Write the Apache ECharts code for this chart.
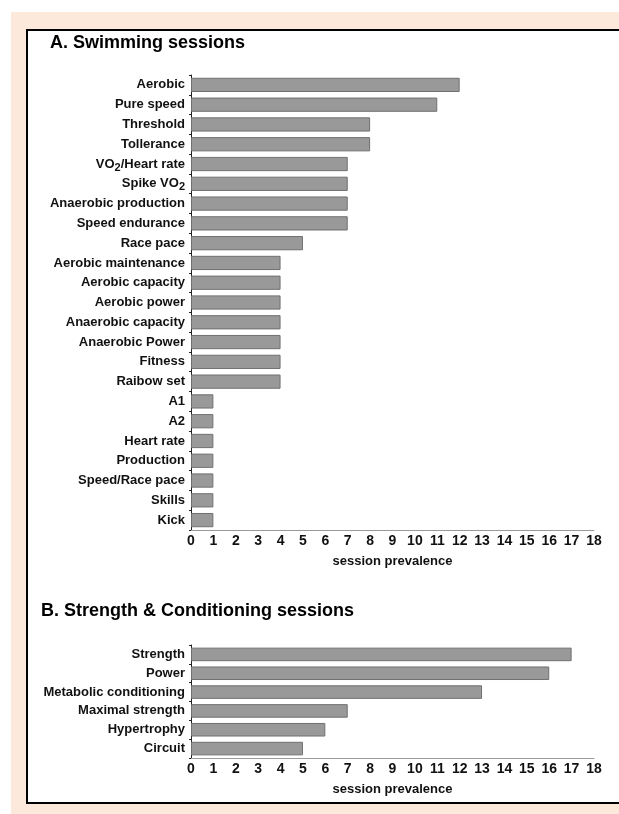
<!DOCTYPE html>
<html>
<head>
<meta charset="utf-8">
<script src="https://cdn.jsdelivr.net/npm/echarts@6/dist/echarts.min.js"></script>
<style>
  html, body { margin: 0; padding: 0; background: #fff; }
  #chart { width: 619px; height: 814px; }
</style>
</head>
<body>
<div id="chart"></div>
<script>
// swimming sessions (top to bottom)
var swimCategories = ['Aerobic', 'Pure speed', 'Threshold', 'Tollerance', 'VO2/Heart rate', 'Spike VO2',
  'Anaerobic production', 'Speed endurance', 'Race pace', 'Aerobic maintenance', 'Aerobic capacity',
  'Aerobic power', 'Anaerobic capacity', 'Anaerobic Power', 'Fitness', 'Raibow set', 'A1', 'A2',
  'Heart rate', 'Production', 'Speed/Race pace', 'Skills', 'Kick'];
var swimValues = [12, 11, 8, 8, 7, 7, 7, 7, 5, 4, 4, 4, 4, 4, 4, 4, 1, 1, 1, 1, 1, 1, 1];

// strength & conditioning sessions
var scCategories = ['Strength', 'Power', 'Metabolic conditioning', 'Maximal strength', 'Hypertrophy', 'Circuit'];
var scValues = [17, 16, 13, 7, 6, 5];

var xTicks = [0, 18, 1]; // min, max, interval
var axisName = 'session prevalence';

var font = 'Liberation Sans, Arial, sans-serif';

function catLabel(v) {
  return v.replace('VO2', 'VO{sub|2}');
}

function valueAxis(idx) {
  return {
    type: 'value', gridIndex: idx,
    min: xTicks[0], max: xTicks[1], interval: xTicks[2],
    name: axisName, nameLocation: 'middle', nameGap: 25,
    nameTextStyle: {fontFamily: font, fontWeight: 'bold', fontSize: 13, color: '#111'},
    axisLine: {show: true, lineStyle: {color: '#999', width: 1}},
    axisTick: {show: false},
    splitLine: {show: false},
    axisLabel: {fontFamily: font, fontWeight: 'bold', fontSize: 14, color: '#111', margin: 4}
  };
}

function catAxis(idx, data) {
  return {
    type: 'category', gridIndex: idx, inverse: true, data: data,
    axisLine: {show: true, lineStyle: {color: '#222', width: 1}},
    axisTick: {show: true, length: 2, lineStyle: {color: '#222'}},
    axisLabel: {
      fontFamily: font, fontWeight: 'bold', fontSize: 13, color: '#111', margin: 6,
      formatter: catLabel,
      rich: {sub: {fontFamily: font, fontWeight: 'bold', fontSize: 11, color: '#111', padding: [7, 0, 0, 0]}}
    }
  };
}

var barStyle = {color: '#999999', borderColor: '#707070', borderWidth: 1};

var chart = echarts.init(document.getElementById('chart'));
chart.setOption({
  animation: false,
  graphic: [
    {type: 'rect', shape: {x: 11, y: 12, width: 608, height: 802}, style: {fill: '#fce9db'}, z: -10},
    {type: 'rect', shape: {x: 27, y: 30, width: 592, height: 773}, style: {fill: '#fff'}, z: -9},
    {type: 'line', shape: {x1: 26, y1: 30, x2: 619, y2: 30}, style: {stroke: '#000', lineWidth: 2}},
    {type: 'line', shape: {x1: 27, y1: 30, x2: 27, y2: 804}, style: {stroke: '#000', lineWidth: 2}},
    {type: 'line', shape: {x1: 26, y1: 803, x2: 619, y2: 803}, style: {stroke: '#000', lineWidth: 2}},
    {type: 'text', left: 50, top: 34, style: {text: 'A. Swimming sessions', font: 'bold 18px Liberation Sans, Arial', fill: '#000'}},
    {type: 'text', left: 41, top: 602, style: {text: 'B. Strength & Conditioning sessions', font: 'bold 18px Liberation Sans, Arial', fill: '#000'}}
  ],
  grid: [
    {left: 191, width: 403, top: 75, height: 455},
    {left: 191, width: 403, top: 645, height: 113}
  ],
  xAxis: [valueAxis(0), valueAxis(1)],
  yAxis: [catAxis(0, swimCategories), catAxis(1, scCategories)],
  series: [
    {type: 'bar', xAxisIndex: 0, yAxisIndex: 0, data: swimValues, barWidth: '72%', itemStyle: barStyle},
    {type: 'bar', xAxisIndex: 1, yAxisIndex: 1, data: scValues, barWidth: '72%', itemStyle: barStyle}
  ]
});
</script>
</body>
</html>
